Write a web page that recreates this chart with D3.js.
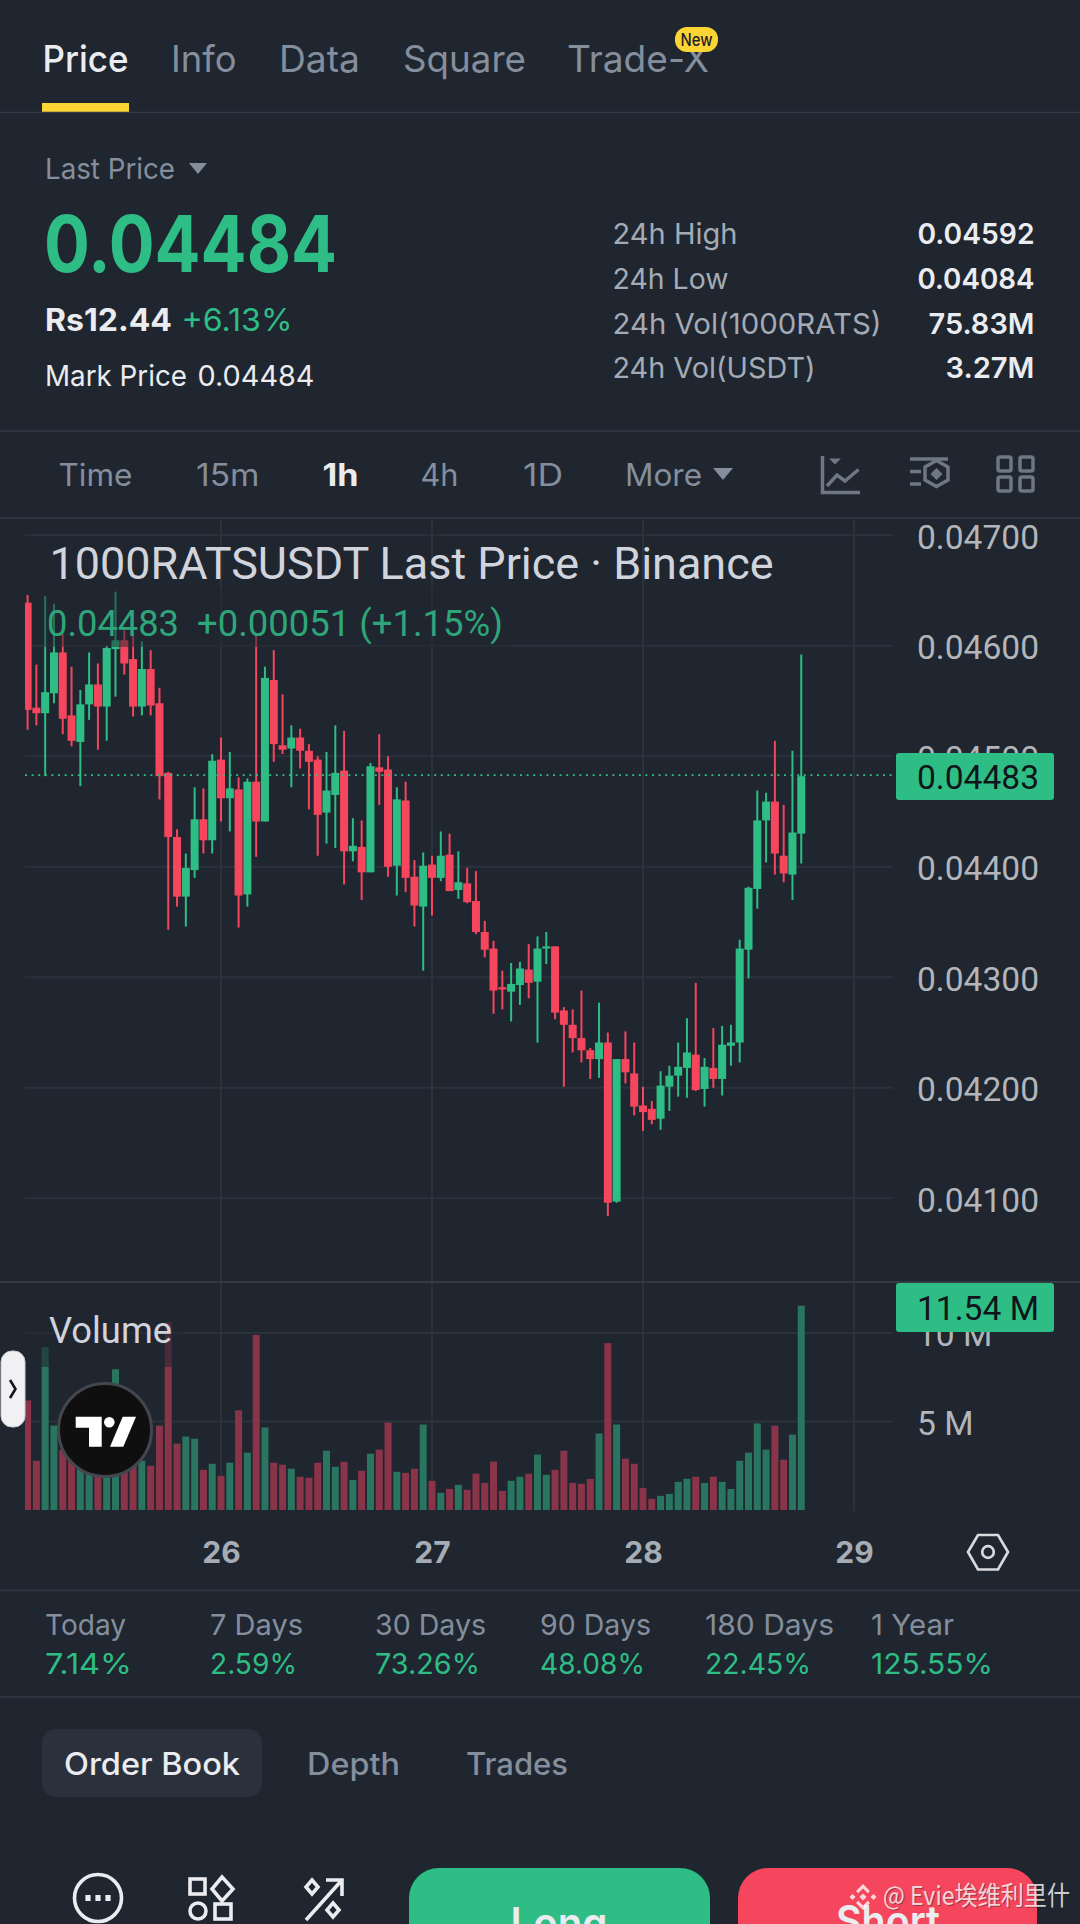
<!DOCTYPE html>
<html><head><meta charset="utf-8">
<script src="https://cdn.jsdelivr.net/npm/d3@7"></script>
<style>html,body{margin:0;padding:0;background:#1f2630;overflow:hidden}svg{display:block}</style>
</head><body><div id="c"></div>
<script>
// ---- data (prices in units of 0.00001 USDT, hour index 0 = 25th 02:00) ----
const opens=[4639,4544,4539,4557,4594,4537,4513,4547,4565,4545,4597,4605,4588,4545,4579,4548,4485,4427,4373,4397,4443,4424,4497,4462,4470,4375,4477,4441,4569,4510,4507,4517,4505,4497,4449,4465,4487,4414,4418,4395,4490,4488,4401,4460,4391,4364,4402,4390,4411,4379,4385,4369,4341,4326,4291,4287,4293,4307,4296,4326,4328,4270,4257,4245,4234,4226,4241,4097,4226,4213,4184,4181,4172,4201,4211,4218,4230,4199,4218,4208,4238,4241,4325,4380,4442,4459,4410,4393,4430];
const closes=[4542,4539,4558,4594,4534,4514,4547,4565,4545,4598,4605,4584,4545,4579,4546,4482,4427,4373,4399,4443,4424,4496,4462,4471,4374,4477,4441,4571,4511,4506,4517,4505,4495,4447,4469,4485,4414,4419,4395,4491,4486,4400,4461,4390,4365,4401,4390,4410,4378,4386,4368,4341,4325,4288,4289,4294,4308,4295,4326,4328,4268,4257,4245,4234,4226,4241,4096,4226,4214,4183,4178,4171,4202,4211,4219,4232,4198,4219,4208,4239,4241,4326,4381,4442,4459,4412,4394,4431,4482];
const highs=[4646,4583,4645,4638,4611,4581,4560,4594,4584,4600,4649,4614,4609,4604,4596,4562,4486,4434,4412,4472,4471,4502,4517,4504,4481,4480,4610,4581,4596,4556,4528,4525,4511,4500,4504,4528,4523,4444,4442,4494,4520,4500,4472,4477,4406,4413,4410,4432,4430,4414,4399,4396,4351,4333,4306,4313,4314,4330,4337,4341,4328,4273,4271,4288,4236,4277,4250,4226,4251,4241,4201,4188,4215,4220,4241,4263,4295,4227,4254,4256,4257,4334,4382,4469,4467,4514,4456,4505,4592];
const lows=[4524,4528,4482,4548,4520,4509,4473,4533,4506,4514,4554,4574,4536,4537,4537,4461,4343,4364,4346,4390,4412,4412,4441,4432,4345,4364,4409,4441,4495,4502,4472,4489,4452,4410,4421,4417,4384,4405,4370,4395,4456,4391,4374,4377,4346,4306,4356,4387,4378,4371,4367,4339,4318,4267,4271,4260,4275,4281,4241,4312,4262,4201,4232,4223,4208,4209,4084,4096,4204,4175,4161,4167,4162,4179,4192,4191,4197,4183,4200,4193,4220,4223,4299,4362,4404,4393,4386,4370,4403];
const volumes=[6.19,2.78,9.2,4.77,3.4,2.84,2.3,2.2,2.0,2.1,7.95,2.4,2.7,2.78,2.5,4.77,10.6,3.75,4.15,4.03,2.27,2.61,1.93,2.67,5.63,3.24,9.89,4.66,2.67,2.56,2.33,1.88,1.82,2.67,3.35,2.44,2.73,1.70,2.22,3.18,3.41,4.94,2.16,2.10,2.33,4.83,1.65,0.97,1.19,1.42,1.14,2.05,1.53,2.73,1.08,1.65,1.88,2.05,3.13,1.99,2.27,3.35,1.53,1.48,1.76,4.32,9.43,4.83,2.90,2.61,1.25,0.63,0.80,0.91,1.59,1.76,1.88,1.53,1.88,1.59,1.19,2.78,3.24,4.89,3.41,4.77,2.84,4.26,11.54];
const priceTicks=[4700,4600,4500,4400,4300,4200,4100];
const volumeTicks=[5,10];
const dayTicks=[22,46,70,94];
const dayLabels=["26","27","28","29"];
const lastPrice=4483;
const tabs=["Price","Info","Data","Square","Trade-X"];
const intervals=["Time","15m","1h","4h","1D","More"];
const statLabels=["24h High","24h Low","24h Vol(1000RATS)","24h Vol(USDT)"];
const statValues=["0.04592","0.04084","75.83M","3.27M"];
const perfLabels=["Today","7 Days","30 Days","90 Days","180 Days","1 Year"];
const perfValues=["7.14%","2.59%","73.26%","48.08%","22.45%","125.55%"];

// ---- palette ----
const BG="#1f2630",GREEN="#2ebd85",RED="#f6465d",VG="#2a7560",VR="#8a344a",GRID="#2c323c",RULE="#333a44",
      GRAY="#848e9c",WHITE="#eaecef",AX="#b2b5ba",UI="Inter, 'Noto Sans', sans-serif",CH="Roboto, sans-serif";

const svg=d3.select("#c").append("svg").attr("width",1080).attr("height",1924);
svg.append("rect").attr("width",1080).attr("height",1924).attr("fill",BG);

function T(g,x,y,s,o={}){
  const t=g.append("text").attr("x",x).attr("y",y).text(s)
    .attr("font-family",o.font||UI).attr("font-size",o.size||30).attr("fill",o.fill||WHITE)
    .attr("font-weight",o.weight||400).attr("text-anchor",o.anchor||"start");
  if(o.w) t.attr("textLength",o.w).attr("lengthAdjust","spacingAndGlyphs");
  return t;
}
function rule(y){svg.append("line").attr("x1",0).attr("x2",1080).attr("y1",y).attr("y2",y).attr("stroke",RULE).attr("stroke-width",1.5);}

// ---- scales ----
const x=d3.scaleLinear().domain([22,94]).range([221,854]);
const y=d3.scaleLinear().domain([4100,4700]).range([1198.3,535.3]);
const yv=d3.scaleLinear().domain([0,10]).range([1510,1333]);
const L=25,R=893;
const defs=svg.append("defs");
defs.append("clipPath").attr("id","cp").append("rect").attr("x",L).attr("y",518).attr("width",R-L).attr("height",764);
defs.append("clipPath").attr("id","cv").append("rect").attr("x",L).attr("y",1283).attr("width",R-L).attr("height",227);

// ---- header tabs ----
const tabX=[[42.5,86],[171,65.5],[279,81],[403,123],[567,142]];
tabs.forEach((s,i)=>T(svg,tabX[i][0],72,s,{size:37,fill:i?GRAY:WHITE,weight:i?400:500,w:tabX[i][1]}));
svg.append("rect").attr("x",42).attr("y",103).attr("width",87).attr("height",9).attr("fill","#fcd535");
rule(112.5);
svg.append("rect").attr("x",675).attr("y",27).attr("width",43).attr("height",25).attr("rx",12).attr("fill","#fcd535");
T(svg,696.5,46,"New",{size:17,fill:"#1e2329",weight:500,anchor:"middle",w:32});

// ---- price block ----
T(svg,45,179,"Last Price",{size:29,fill:GRAY,w:130});
svg.append("path").attr("d","M189 163h18l-9 11z").attr("fill",GRAY);
T(svg,44,272,"0.04484",{size:78,fill:GREEN,weight:700,w:293});
T(svg,45,331,"Rs12.44",{size:31,weight:700,w:127});
T(svg,181.5,331,"+6.13%",{size:31,fill:GREEN,w:111});
T(svg,45,386,"Mark Price",{size:29,w:142});
T(svg,197.5,386,"0.04484",{size:29,w:117});
const statY=[243.5,288.5,334,378],statW=[125,116,269,203],valW=[117,117,106,89];
statLabels.forEach((s,i)=>{
  T(svg,612.5,statY[i],s,{size:29,fill:"#a4abb5",w:statW[i]});
  T(svg,1034.5,statY[i],statValues[i],{size:29,weight:600,anchor:"end",w:valW[i]});
});
rule(431);

// ---- interval bar ----
const intX=[[58.5,74],[196,63.5],[322.5,36],[420.5,38],[523,40],[625,77]];
intervals.forEach((s,i)=>T(svg,intX[i][0],486,s,{size:31,fill:i==2?WHITE:GRAY,weight:i==2?700:400,w:intX[i][1]}));
svg.append("path").attr("d","M713 468h20l-10 12z").attr("fill",GRAY);
const ic=svg.append("g").attr("fill","none").attr("stroke","#6f7785").attr("stroke-width",3.5);
ic.append("path").attr("d","M822.5 456V492.5H860M827 486L837 475L845 481L858.5 469.5");
ic.append("path").attr("d","M829 458.5h12l-6 6z").attr("fill","#6f7785").attr("stroke","none");
ic.append("path").attr("d","M910 459h38M910 471.5h11M910 484h11");
ic.append("path").attr("d","M936.5 460.5l11.5 6.5v13l-11.5 6.5l-11.5-6.5v-13z");
ic.append("path").attr("d","M936.5 468l6 6l-6 6l-6-6z").attr("fill","#6f7785").attr("stroke","none");
[[998,457],[1020,457],[998,477],[1020,477]].forEach(p=>ic.append("rect").attr("x",p[0]).attr("y",p[1]).attr("width",13).attr("height",14).attr("rx",2));
svg.append("line").attr("x1",0).attr("x2",1080).attr("y1",518).attr("y2",518).attr("stroke",RULE).attr("stroke-width",1.5);

// ---- grid ----
const grid=svg.append("g").attr("stroke",GRID).attr("stroke-width",2);
dayTicks.forEach(d=>grid.append("line").attr("x1",x(d)).attr("x2",x(d)).attr("y1",518).attr("y2",1511));
priceTicks.forEach(p=>grid.append("line").attr("x1",L).attr("x2",R).attr("y1",y(p)).attr("y2",y(p)));
volumeTicks.forEach(v=>grid.append("line").attr("x1",L).attr("x2",R).attr("y1",yv(v)).attr("y2",yv(v)));

// ---- candles ----
const idx=d3.range(opens.length);
const up=i=>closes[i]>=opens[i];
const cg=svg.append("g").attr("clip-path","url(#cp)");
cg.selectAll("line.w").data(idx).join("line").attr("class","w")
  .attr("x1",i=>x(i)).attr("x2",i=>x(i)).attr("y1",i=>y(highs[i])).attr("y2",i=>y(lows[i]))
  .attr("stroke",i=>up(i)?GREEN:RED).attr("stroke-width",2);
cg.selectAll("rect.b").data(idx).join("rect").attr("class","b")
  .attr("x",i=>x(i)-4).attr("width",8)
  .attr("y",i=>y(Math.max(opens[i],closes[i])))
  .attr("height",i=>Math.max(1.5,Math.abs(y(opens[i])-y(closes[i]))))
  .attr("fill",i=>up(i)?GREEN:RED);

// ---- volume ----
const vg=svg.append("g").attr("clip-path","url(#cv)");
vg.selectAll("rect").data(idx).join("rect")
  .attr("x",i=>x(i)-3.5).attr("width",7)
  .attr("y",i=>yv(volumes[i])).attr("height",i=>yv(0)-yv(volumes[i]))
  .attr("fill",i=>up(i)?VG:VR);

// ---- last price dotted line ----
svg.append("line").attr("x1",L).attr("x2",R).attr("y1",y(lastPrice)).attr("y2",y(lastPrice))
  .attr("stroke",GREEN).attr("stroke-width",1.8).attr("stroke-dasharray","2 4.6");

// ---- pane divider ----
svg.append("line").attr("x1",0).attr("x2",1080).attr("y1",1282).attr("y2",1282).attr("stroke",RULE).attr("stroke-width",2);

// ---- legends ----
svg.append("rect").attr("x",44).attr("y",588).attr("width",466).attr("height",59).attr("fill",BG).attr("opacity",.5);
svg.append("rect").attr("x",25).attr("y",1300).attr("width",160).attr("height",67).attr("fill",BG).attr("opacity",.6);
T(svg,49.5,579,"1000RATSUSDT Last Price · Binance",{font:CH,size:44,fill:"#d1d4dc",w:724});
T(svg,47,636,"0.04483",{font:CH,size:36,fill:"#2fa57a",w:132});
T(svg,197,636,"+0.00051 (+1.15%)",{font:CH,size:36,fill:"#2fa57a",w:306});
T(svg,49,1343,"Volume",{font:CH,size:36,fill:"#d1d4dc",w:123});

// ---- axes ----
const ay=svg.append("g").attr("transform","translate(917,2)").call(
  d3.axisRight(y).tickValues(priceTicks).tickSize(0).tickPadding(0).tickFormat(d=>d3.format(".5f")(d/1e5)));
const av=svg.append("g").attr("transform","translate(917,2)").call(
  d3.axisRight(yv).tickValues(volumeTicks).tickSize(0).tickPadding(0).tickFormat(d=>d+" M"));
[ay,av].forEach(a=>{a.select(".domain").remove();a.selectAll("text").attr("font-family",CH).attr("font-size",33.6).attr("fill",AX);});
const ax=svg.append("g").attr("transform","translate(0,1542)").call(
  d3.axisBottom(x).tickValues(dayTicks).tickSize(0).tickPadding(0).tickFormat((d,i)=>dayLabels[i]));
ax.select(".domain").remove();
ax.selectAll("text").attr("font-family",UI).attr("font-size",30).attr("font-weight",700).attr("fill","#a6acb5");

// ---- price tags ----
svg.append("rect").attr("x",896).attr("y",753).attr("width",158).attr("height",47).attr("rx",3).attr("fill",GREEN);
T(svg,917,789,d3.format(".5f")(lastPrice/1e5),{font:CH,size:33.6,fill:"#10151b"});
svg.append("rect").attr("x",896).attr("y",1283).attr("width",158).attr("height",49).attr("rx",3).attr("fill",GREEN);
T(svg,917,1320,d3.format(".2f")(volumes[volumes.length-1])+" M",{font:CH,size:33.6,fill:"#10151b"});

// ---- side handle + logo ----
svg.append("rect").attr("x",1).attr("y",1351).attr("width",24).attr("height",76).attr("rx",11).attr("fill","#f1f1f4").attr("stroke","#c9ccd2");
svg.append("path").attr("d","M10 1380L15.5 1389L10 1398").attr("fill","none").attr("stroke","#15181d").attr("stroke-width",2.6);
svg.append("circle").attr("cx",105).attr("cy",1430).attr("r",46.5).attr("fill","#0f0f0f").attr("stroke","#43464d").attr("stroke-width",3);
svg.append("path").attr("fill","#fff").attr("d","M75.7 1416.7H101.7V1446.7H89V1427.7H75.7Z");
svg.append("circle").attr("cx",109.3).attr("cy",1422.3).attr("r",5.3).attr("fill","#fff");
svg.append("path").attr("fill","#fff").attr("d","M122.7 1416.7H136L123.3 1446.7H110Z");

// ---- settings hexagon ----
const hx=svg.append("g").attr("fill","none").attr("stroke","#d8dade").attr("stroke-width",2.7);
hx.append("path").attr("d","M968 1552L978 1535H998L1008 1552L998 1569.5H978Z");
hx.append("circle").attr("cx",988).attr("cy",1552).attr("r",5.8);
rule(1590.5);

// ---- performance row ----
const perfX=[45,210,375,540,705,871],perfLW=[81,93,111,111,129,83],perfVW=[87,87,105,105,106,122];
perfLabels.forEach((s,i)=>{
  T(svg,perfX[i],1635,s,{size:29,fill:GRAY,w:perfLW[i]});
  T(svg,perfX[i],1674,perfValues[i],{size:29,fill:GREEN,w:perfVW[i]});
});
rule(1697);

// ---- order book tabs ----
svg.append("rect").attr("x",42).attr("y",1729).attr("width",220).attr("height",68).attr("rx",14).attr("fill","#2a303c");
T(svg,64,1775,"Order Book",{size:31,weight:500,w:176});
T(svg,307,1775,"Depth",{size:31,fill:GRAY,weight:500,w:93});
T(svg,466,1775,"Trades",{size:31,fill:GRAY,weight:500,w:102});

// ---- bottom icons + buttons ----
const bi=svg.append("g").attr("fill","none").attr("stroke",WHITE).attr("stroke-width",3.6);
bi.append("circle").attr("cx",98).attr("cy",1898).attr("r",23.5);
[88,98,108].forEach(px=>svg.append("rect").attr("x",px-2.6).attr("y",1895).attr("width",5.2).attr("height",6).attr("fill",WHITE));
bi.append("rect").attr("x",190).attr("y",1879).attr("width",15).attr("height",15);
bi.append("path").attr("d","M222 1877L233 1889L222 1901L212 1889Z");
bi.append("circle").attr("cx",198).attr("cy",1911).attr("r",8);
bi.append("rect").attr("x",215).attr("y",1904).attr("width",16).attr("height",15);
bi.append("path").attr("d","M306 1920L342 1880M326 1880H342V1896");
bi.append("path").attr("d","M312 1880L318 1887L312 1894L306 1887Z");
bi.append("path").attr("d","M333 1903L339 1910L333 1917L327 1910Z");
svg.append("rect").attr("x",409).attr("y",1868).attr("width",301).attr("height",120).attr("rx",30).attr("fill",GREEN);
svg.append("rect").attr("x",738).attr("y",1868).attr("width",299).attr("height",120).attr("rx",30).attr("fill",RED);
T(svg,559,1938,"Long",{size:42,weight:600,anchor:"middle",w:97});
T(svg,888,1936,"Short",{size:42,weight:600,anchor:"middle",w:104});

// ---- watermark ----
const wmShadow=svg.append("g").attr("opacity",.35).attr("fill","#111");
T(wmShadow,884,1906,"@ Evie埃维利里什",{font:"'Noto Sans CJK SC', sans-serif",size:26,fill:"#111",w:187});
const wm=svg.append("g").attr("fill","#fff").attr("opacity",.78);
const dia=(cx,cy,r)=>wm.append("path").attr("d",`M${cx} ${cy-r}l${r} ${r}l${-r} ${r}l${-r} ${-r}z`);
dia(863,1897,3.6);dia(852.5,1897,3);dia(873.5,1897,3);
wm.append("path").attr("d","M863 1884l7 7l-2.2 2.2l-4.8-4.8l-4.8 4.8l-2.2-2.2z");
wm.append("path").attr("d","M863 1910l7-7l-2.2-2.2l-4.8 4.8l-4.8-4.8l-2.2 2.2z");
T(wm,883,1905,"@ Evie埃维利里什",{font:"'Noto Sans CJK SC', sans-serif",size:26,fill:"#fff",w:187});
</script></body></html>
